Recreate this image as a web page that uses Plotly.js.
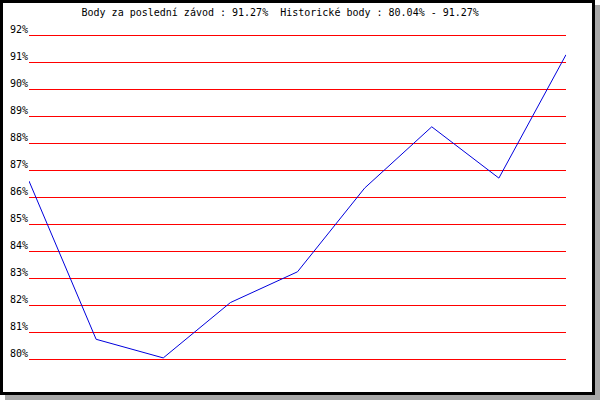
<!DOCTYPE html>
<html>
<head>
<meta charset="utf-8">
<script src="https://cdn.plot.ly/plotly-3.0.1.min.js"></script>
<style>
  html, body { margin: 0; padding: 0; width: 600px; height: 400px; overflow: hidden; background: #ffffff; }
  #frame { position: absolute; left: 0; top: 0; width: 589px; height: 389px; border: 3px solid #000; background: #fff; box-shadow: 5px 5px 0 #a8a8a8; }
  #chart { position: absolute; left: 0; top: 0; width: 600px; height: 400px; }
</style>
</head>
<body>
<div id="frame"></div>
<div id="chart"></div>
<script>
// Race index (x) and points percentage (y)
const races = [0, 1, 2, 3, 4, 5, 6, 7, 8];
const points = [86.59, 80.73, 80.04, 82.09, 83.23, 86.33, 88.60, 86.70, 91.27];
const tickValues = [80, 81, 82, 83, 84, 85, 86, 87, 88, 89, 90, 91, 92];
const tickLabels = ['80%', '81%', '82%', '83%', '84%', '85%', '86%', '87%', '88%', '89%', '90%', '91%', '92%'];
const titleText = 'Body za poslední závod : 91.27%  Historické body : 80.04% - 91.27%';

const font = { family: 'DejaVu Sans Mono, monospace', size: 10, color: '#000' };

Plotly.newPlot('chart', [{
  x: races,
  y: points,
  type: 'scatter',
  mode: 'lines',
  line: { color: '#0000dd', width: 1 },
  hoverinfo: 'skip'
}], {
  width: 600,
  height: 400,
  margin: { l: 29, r: 34, t: 8, b: 14, pad: 0 },
  paper_bgcolor: 'rgba(0,0,0,0)',
  plot_bgcolor: 'rgba(0,0,0,0)',
  showlegend: false,
  font: font,
  title: {
    text: titleText,
    font: font,
    x: 0.467, xref: 'container', xanchor: 'center',
    y: 0.968, yref: 'container', yanchor: 'middle'
  },
  xaxis: {
    range: [0, 8],
    showgrid: false, zeroline: false, showline: false,
    showticklabels: false, ticks: ''
  },
  yaxis: {
    range: [79, 93],
    tickvals: tickValues,
    ticktext: tickLabels,
    showgrid: true,
    gridcolor: '#ff0000',
    gridwidth: 1,
    zeroline: false,
    showline: false,
    ticks: '',
    ticklabelshift: -6,
    ticklabelstandoff: 0,
    tickfont: font
  }
}, { staticPlot: true, displayModeBar: false });
</script>
</body>
</html>
